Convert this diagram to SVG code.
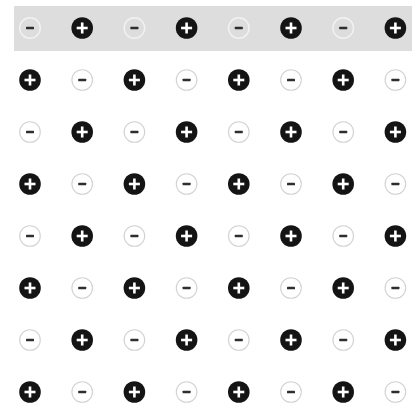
<svg xmlns="http://www.w3.org/2000/svg" xmlns:xlink="http://www.w3.org/1999/xlink" width="417" height="408" viewBox="0 0 417 408">
<style>
.pos circle{fill:#141414;stroke:none}
.pos rect{fill:#ffffff}
.neg circle{fill:none;stroke:#d2d2d2;stroke-width:1.1}
.neg rect{fill:#2e2e2e}
</style>
<defs>
<g id="plus" class="pos"><circle r="10.8"/><rect x="-5.5" y="-1.3" width="11" height="2.6"/><rect x="-1.3" y="-5.5" width="2.6" height="11"/></g>
<g id="minus" class="neg"><circle r="10.3"/><rect x="-4" y="-1.3" width="8" height="2.6" rx="0.6"/></g>
<g id="minusB" class="neg"><circle r="10.3" style="stroke:#f2f2f2;stroke-width:1.4"/><rect x="-4" y="-1.3" width="8" height="2.6" rx="0.6"/></g>
</defs>
<rect x="14" y="6" width="398" height="45" fill="#dddddd"/>
<g id="connectors"/>
<g id="r1c1"><use xlink:href="#minusB" x="30" y="28"/></g>
<g id="r1c2"><use xlink:href="#plus" x="82.2" y="28"/></g>
<g id="r1c3"><use xlink:href="#minusB" x="134.4" y="28"/></g>
<g id="r1c4"><use xlink:href="#plus" x="186.6" y="28"/></g>
<g id="r1c5"><use xlink:href="#minusB" x="238.8" y="28"/></g>
<g id="r1c6"><use xlink:href="#plus" x="291" y="28"/></g>
<g id="r1c7"><use xlink:href="#minusB" x="343.2" y="28"/></g>
<g id="r1c8"><use xlink:href="#plus" x="395.4" y="28"/></g>
<g id="r2c1"><use xlink:href="#plus" x="30" y="80"/></g>
<g id="r2c2"><use xlink:href="#minus" x="82.2" y="80"/></g>
<g id="r2c3"><use xlink:href="#plus" x="134.4" y="80"/></g>
<g id="r2c4"><use xlink:href="#minus" x="186.6" y="80"/></g>
<g id="r2c5"><use xlink:href="#plus" x="238.8" y="80"/></g>
<g id="r2c6"><use xlink:href="#minus" x="291" y="80"/></g>
<g id="r2c7"><use xlink:href="#plus" x="343.2" y="80"/></g>
<g id="r2c8"><use xlink:href="#minus" x="395.4" y="80"/></g>
<g id="r3c1"><use xlink:href="#minus" x="30" y="132"/></g>
<g id="r3c2"><use xlink:href="#plus" x="82.2" y="132"/></g>
<g id="r3c3"><use xlink:href="#minus" x="134.4" y="132"/></g>
<g id="r3c4"><use xlink:href="#plus" x="186.6" y="132"/></g>
<g id="r3c5"><use xlink:href="#minus" x="238.8" y="132"/></g>
<g id="r3c6"><use xlink:href="#plus" x="291" y="132"/></g>
<g id="r3c7"><use xlink:href="#minus" x="343.2" y="132"/></g>
<g id="r3c8"><use xlink:href="#plus" x="395.4" y="132"/></g>
<g id="r4c1"><use xlink:href="#plus" x="30" y="184"/></g>
<g id="r4c2"><use xlink:href="#minus" x="82.2" y="184"/></g>
<g id="r4c3"><use xlink:href="#plus" x="134.4" y="184"/></g>
<g id="r4c4"><use xlink:href="#minus" x="186.6" y="184"/></g>
<g id="r4c5"><use xlink:href="#plus" x="238.8" y="184"/></g>
<g id="r4c6"><use xlink:href="#minus" x="291" y="184"/></g>
<g id="r4c7"><use xlink:href="#plus" x="343.2" y="184"/></g>
<g id="r4c8"><use xlink:href="#minus" x="395.4" y="184"/></g>
<g id="r5c1"><use xlink:href="#minus" x="30" y="236"/></g>
<g id="r5c2"><use xlink:href="#plus" x="82.2" y="236"/></g>
<g id="r5c3"><use xlink:href="#minus" x="134.4" y="236"/></g>
<g id="r5c4"><use xlink:href="#plus" x="186.6" y="236"/></g>
<g id="r5c5"><use xlink:href="#minus" x="238.8" y="236"/></g>
<g id="r5c6"><use xlink:href="#plus" x="291" y="236"/></g>
<g id="r5c7"><use xlink:href="#minus" x="343.2" y="236"/></g>
<g id="r5c8"><use xlink:href="#plus" x="395.4" y="236"/></g>
<g id="r6c1"><use xlink:href="#plus" x="30" y="288"/></g>
<g id="r6c2"><use xlink:href="#minus" x="82.2" y="288"/></g>
<g id="r6c3"><use xlink:href="#plus" x="134.4" y="288"/></g>
<g id="r6c4"><use xlink:href="#minus" x="186.6" y="288"/></g>
<g id="r6c5"><use xlink:href="#plus" x="238.8" y="288"/></g>
<g id="r6c6"><use xlink:href="#minus" x="291" y="288"/></g>
<g id="r6c7"><use xlink:href="#plus" x="343.2" y="288"/></g>
<g id="r6c8"><use xlink:href="#minus" x="395.4" y="288"/></g>
<g id="r7c1"><use xlink:href="#minus" x="30" y="340"/></g>
<g id="r7c2"><use xlink:href="#plus" x="82.2" y="340"/></g>
<g id="r7c3"><use xlink:href="#minus" x="134.4" y="340"/></g>
<g id="r7c4"><use xlink:href="#plus" x="186.6" y="340"/></g>
<g id="r7c5"><use xlink:href="#minus" x="238.8" y="340"/></g>
<g id="r7c6"><use xlink:href="#plus" x="291" y="340"/></g>
<g id="r7c7"><use xlink:href="#minus" x="343.2" y="340"/></g>
<g id="r7c8"><use xlink:href="#plus" x="395.4" y="340"/></g>
<g id="r8c1"><use xlink:href="#plus" x="30" y="392"/></g>
<g id="r8c2"><use xlink:href="#minus" x="82.2" y="392"/></g>
<g id="r8c3"><use xlink:href="#plus" x="134.4" y="392"/></g>
<g id="r8c4"><use xlink:href="#minus" x="186.6" y="392"/></g>
<g id="r8c5"><use xlink:href="#plus" x="238.8" y="392"/></g>
<g id="r8c6"><use xlink:href="#minus" x="291" y="392"/></g>
<g id="r8c7"><use xlink:href="#plus" x="343.2" y="392"/></g>
<g id="r8c8"><use xlink:href="#minus" x="395.4" y="392"/></g>
</svg>
